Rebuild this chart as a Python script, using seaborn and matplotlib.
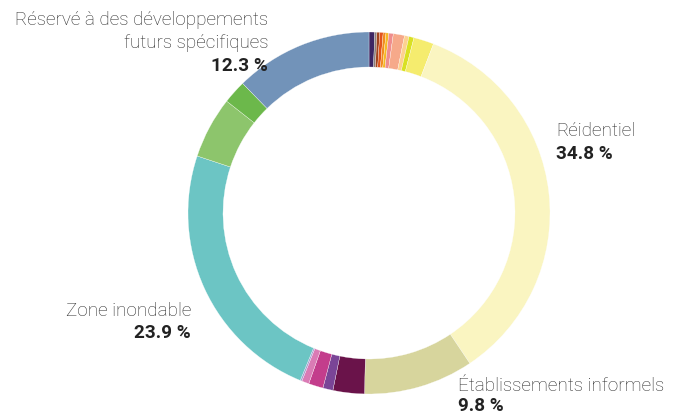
import matplotlib
matplotlib.use("Agg")
import matplotlib.pyplot as plt
import seaborn as sns

sns.set_theme(style="white")
plt.rcParams['font.family'] = ['Roboto', 'DejaVu Sans']

# Shares (%) clockwise from 12 o'clock
values = [0.5, 0.2, 0.25, 0.3, 0.25, 0.25, 0.4, 1.0, 0.4, 0.45, 1.8,
          34.8, 9.8,
          2.8, 0.9, 1.3, 0.65, 0.15,
          23.9, 5.5, 2.1, 12.3]
colors = ["#3d2663", "#8c7f7a", "#a3441e", "#e2541c", "#f28a1f", "#f6b923",
          "#ef8d8d", "#f6a98a", "#fdd191", "#d9e024", "#f5ec6e",
          "#faf5c1", "#d7d59d",
          "#6a134a", "#7a4597", "#c33d8c", "#da7bb5", "#a99bd1",
          "#6cc5c4", "#8dc56c", "#6cb84b", "#7293b9"]

label_names = ["Réservé à des développements\nfuturs spécifiques", "Réidentiel",
               "Zone inondable", "Établissements informels"]
label_values = ["12.3 %", "34.8 %", "23.9 %", "9.8 %"]

W, H = 682, 416
fig = plt.figure(figsize=(W / 100, H / 100), dpi=100)
ax = fig.add_axes([0, 0, 1, 1])

cx, cy, R = 369, H - 213, 181
ax.pie(values, colors=colors, startangle=90, counterclock=False,
       center=(cx, cy), radius=R,
       wedgeprops=dict(width=35, edgecolor="white", linewidth=0.2))
ax.set_xlim(0, W)
ax.set_ylim(0, H)
ax.set_aspect('equal')
ax.axis('off')

name_kw = dict(fontsize=13.6, color="#2a2a2a", fontweight="light")
val_kw = dict(fontsize=13.6, color="#222222", fontweight="bold")

# Réservé
ax.text(268, H - 20, "Réservé à des développements", ha="right", va="center", **name_kw)
ax.text(268, H - 43, "futurs spécifiques", ha="right", va="center", **name_kw)
ax.text(268, H - 66, label_values[0], ha="right", va="center", **val_kw)
# Réidentiel
ax.text(556, H - 131, label_names[1], ha="left", va="center", **name_kw)
ax.text(556, H - 154, label_values[1], ha="left", va="center", **val_kw)
# Zone inondable
ax.text(191, H - 311, label_names[2], ha="right", va="center", **name_kw)
ax.text(191, H - 333, label_values[2], ha="right", va="center", **val_kw)
# Établissements informels
ax.text(458, H - 386, label_names[3], ha="left", va="center", **name_kw)
ax.text(458, H - 406, label_values[3], ha="left", va="center", **val_kw)

fig.savefig("out.png", dpi=100)
